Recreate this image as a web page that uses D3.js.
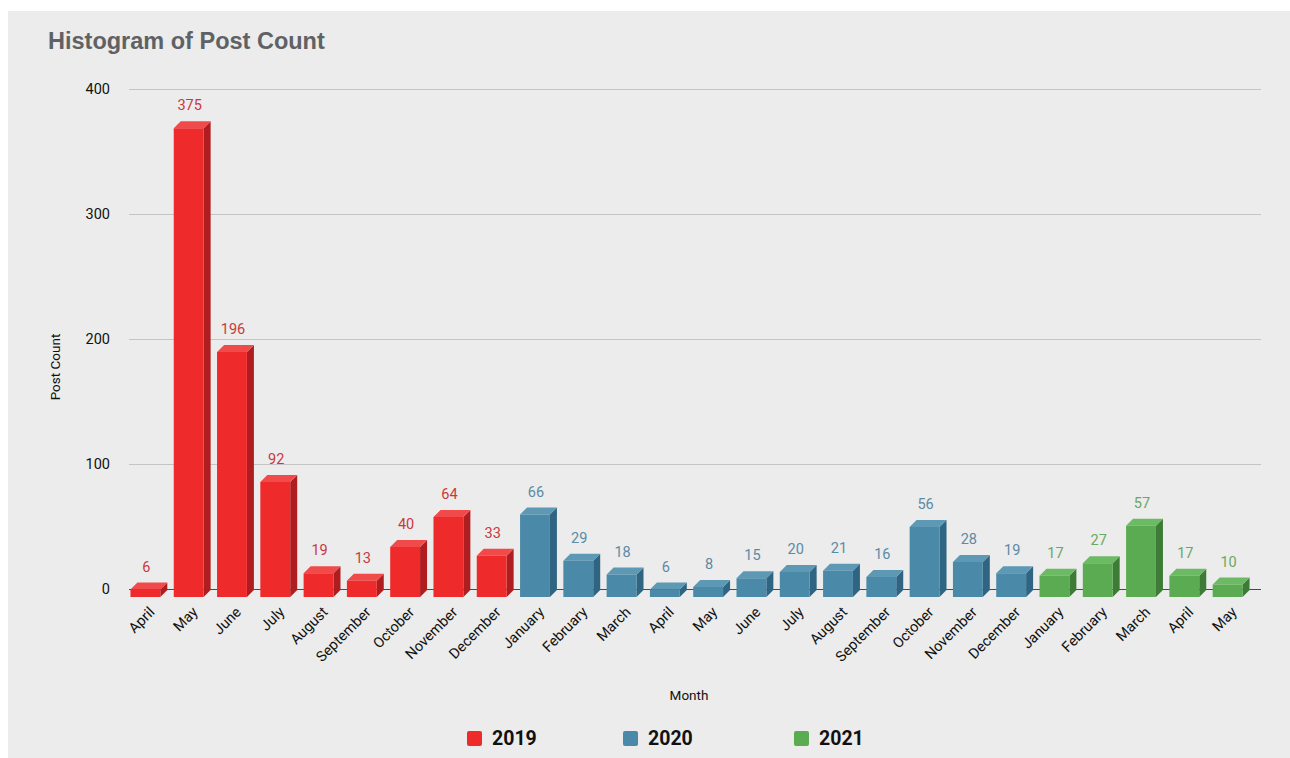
<!DOCTYPE html>
<html>
<head>
<meta charset="utf-8">
<script src="https://cdn.jsdelivr.net/npm/d3@7"></script>
<style>
  body { margin: 0; background: #fff; }
  svg { display: block; font-family: Roboto, "Liberation Sans", Arial, sans-serif; }
</style>
</head>
<body>
<script>
// data
var months = ["April", "May", "June", "July", "August", "September", "October", "November", "December",
              "January", "February", "March", "April", "May", "June", "July", "August", "September",
              "October", "November", "December",
              "January", "February", "March", "April", "May"];
var years = ["2019", "2019", "2019", "2019", "2019", "2019", "2019", "2019", "2019",
             "2020", "2020", "2020", "2020", "2020", "2020", "2020", "2020", "2020",
             "2020", "2020", "2020",
             "2021", "2021", "2021", "2021", "2021"];
var counts = [6, 375, 196, 92, 19, 13, 40, 64, 33,
              66, 29, 18, 6, 8, 15, 20, 21, 16, 56, 28, 19,
              17, 27, 57, 17, 10];
var yTicks = [0, 100, 200, 300, 400];
var legendYears = ["2019", "2020", "2021"];

var colors = {
  "2019": { front: "#ee2a2b", top: "#f14a4a", side: "#b01d20", label: "#c9393c" },
  "2020": { front: "#4b89a8", top: "#5d98b5", side: "#2f6582", label: "#5b8aa6" },
  "2021": { front: "#5aab51", top: "#6cba63", side: "#3e7b37", label: "#6aa862" }
};

var width = 1290, height = 758;
var depthX = 7, depthY = 7;   // 3d offset of the bars

var data = months.map(function (m, i) {
  return { key: i, month: m, year: years[i], value: counts[i] };
});

var svg = d3.select("body").append("svg")
  .attr("width", width)
  .attr("height", height);

// gray panel
svg.append("rect")
  .attr("x", 8).attr("y", 11)
  .attr("width", width - 8).attr("height", height - 11)
  .attr("fill", "#ebeceb");

svg.append("text")
  .attr("x", 48).attr("y", 49)
  .attr("font-size", 23.5).attr("font-weight", "bold")
  .attr("font-family", "'Liberation Sans', Arial, sans-serif")
  .attr("fill", "#5f6265")
  .text("Histogram of Post Count");

var y = d3.scaleLinear()
  .domain([0, 400])
  .range([589, 89]);

var x = d3.scaleBand()
  .domain(data.map(function (d) { return d.key; }))
  .range([127, 1246])
  .paddingInner(0.31)
  .paddingOuter(0.08);

// grid + y axis labels
var yAxis = svg.append("g")
  .attr("transform", "translate(129,0)")
  .call(d3.axisLeft(y).tickValues(yTicks).tickSize(-1132).tickPadding(19));
yAxis.select(".domain").remove();
yAxis.selectAll(".tick line")
  .attr("stroke", function (d) { return d === 0 ? "#4a4a4a" : "#c4c4c4"; })
  .attr("stroke-width", 1.2);
yAxis.selectAll(".tick text")
  .attr("font-size", 14.5)
  .attr("fill", "#111")
  .attr("font-family", "Roboto, sans-serif");

// bars drawn as front / top / side faces
var base = y(0) + 8;
var bars = svg.append("g").selectAll("g")
  .data(data)
  .join("g");

function topOf(d) { return base - (y(0) - y(d.value)); }

bars.append("path")
  .attr("fill", function (d) { return colors[d.year].side; })
  .attr("d", function (d) {
    var x1 = x(d.key) + x.bandwidth(), t = topOf(d);
    return "M" + x1 + "," + base + "L" + (x1 + depthX) + "," + (base - depthY) +
      "L" + (x1 + depthX) + "," + (t - depthY) + "L" + x1 + "," + t + "Z";
  });
bars.append("path")
  .attr("fill", function (d) { return colors[d.year].top; })
  .attr("d", function (d) {
    var x0 = x(d.key), x1 = x0 + x.bandwidth(), t = topOf(d);
    return "M" + x0 + "," + t + "L" + (x0 + depthX) + "," + (t - depthY) +
      "L" + (x1 + depthX) + "," + (t - depthY) + "L" + x1 + "," + t + "Z";
  });
bars.append("rect")
  .attr("fill", function (d) { return colors[d.year].front; })
  .attr("x", function (d) { return x(d.key); })
  .attr("y", function (d) { return topOf(d); })
  .attr("width", x.bandwidth())
  .attr("height", function (d) { return base - topOf(d); });

// value labels
bars.append("text")
  .attr("x", function (d) { return x(d.key) + x.bandwidth() / 2 + 1; })
  .attr("y", function (d) { return topOf(d) - depthY - 11; })
  .attr("text-anchor", "middle")
  .attr("font-size", 14.5)
  .attr("fill", function (d) { return colors[d.year].label; })
  .text(function (d) { return d.value; });

// month labels
svg.append("g").selectAll("text")
  .data(data)
  .join("text")
  .attr("text-anchor", "end")
  .attr("font-size", 14.5)
  .attr("fill", "#111")
  .attr("transform", function (d) {
    return "translate(" + (x(d.key) + x.bandwidth() / 2 + 10) + ",613) rotate(-45)";
  })
  .text(function (d) { return d.month; });

svg.append("text")
  .attr("transform", "translate(60,367) rotate(-90)")
  .attr("text-anchor", "middle")
  .attr("font-size", 13.5)
  .attr("fill", "#111")
  .text("Post Count");

svg.append("text")
  .attr("x", 689).attr("y", 700)
  .attr("text-anchor", "middle")
  .attr("font-size", 13.5)
  .attr("fill", "#111")
  .text("Month");

// legend
var legendX = d3.scaleOrdinal().domain(legendYears).range([467, 623, 794]);
var legend = svg.append("g").selectAll("g")
  .data(legendYears)
  .join("g")
  .attr("transform", function (d) { return "translate(" + legendX(d) + ",731)"; });
legend.append("rect")
  .attr("width", 15).attr("height", 15).attr("rx", 2)
  .attr("fill", function (d) { return colors[d].front; });
legend.append("text")
  .attr("x", 25).attr("y", 14)
  .attr("font-size", 19.5).attr("font-weight", "bold")
  .attr("fill", "#111")
  .text(function (d) { return d; });
</script>
</body>
</html>
